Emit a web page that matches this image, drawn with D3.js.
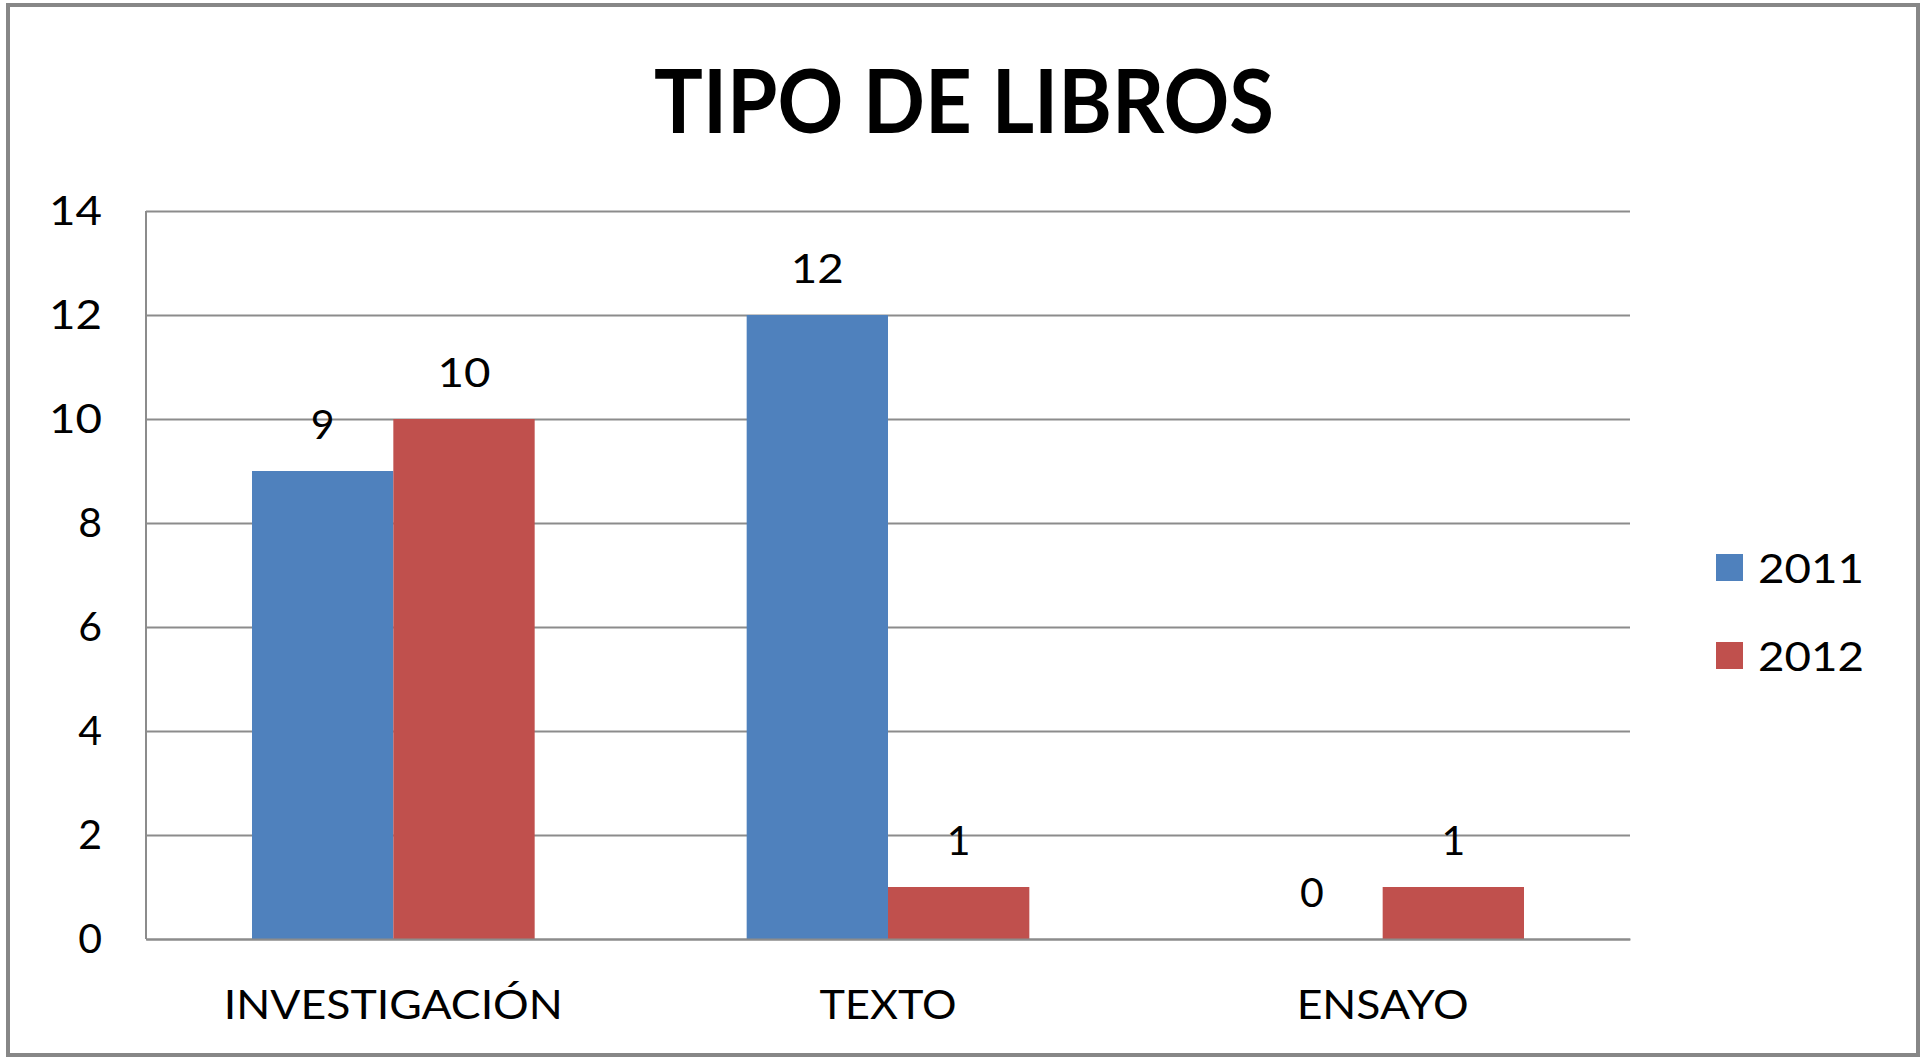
<!DOCTYPE html>
<html>
<head>
<meta charset="utf-8">
<script src="https://cdn.jsdelivr.net/npm/d3@7"></script>
<style>
  body { margin: 0; background: #fff; }
  svg { display: block; }
  .grid line { stroke: #8c8c8c; stroke-width: 2; }
  .grid path { display: none; }
  .axis text { font-family: Lato, 'Open Sans', sans-serif; fill: #000; }
  .label { font-family: Lato, 'Open Sans', sans-serif; font-size: 41px; fill: #000; }
</style>
</head>
<body>
<div id="chart"></div>
<script>
const categories = ['INVESTIGACIÓN', 'TEXTO', 'ENSAYO'];
const years = ['2011', '2012'];
const values2011 = [9, 12, 0];
const values2012 = [10, 1, 1];
const yTicks = [0, 2, 4, 6, 8, 10, 12, 14];
const colors = ['#4f81bd', '#c0504d'];

const W = 1925;
const H = 1059;
const digitW = 26.5; // the source font has wide, equal-width digits

// only stretch multi-digit numbers, a lone digit keeps its own shape
const numLength = s => (String(s).length > 1 ? String(s).length * digitW : null);

// plot area inside the chart box
const margin = { top: 211, right: 295, bottom: 120, left: 146 };
const width = W - margin.left - margin.right;
const height = H - margin.top - margin.bottom;

const svg = d3.select('#chart')
  .append('svg')
  .attr('width', W)
  .attr('height', H);

// outer frame
svg.append('rect')
  .attr('x', 8)
  .attr('y', 5)
  .attr('width', 1910)
  .attr('height', 1050)
  .attr('fill', '#fff')
  .attr('stroke', '#878787')
  .attr('stroke-width', 4);

// title
svg.append('text')
  .attr('x', 964)
  .attr('y', 133)
  .attr('text-anchor', 'middle')
  .attr('font-family', "Lato, 'Open Sans', sans-serif")
  .attr('font-weight', 'bold')
  .attr('font-size', 88)
  .attr('textLength', 620)
  .attr('lengthAdjust', 'spacingAndGlyphs')
  .text('TIPO DE LIBROS');

const g = svg.append('g')
  .attr('transform', `translate(${margin.left}, ${margin.top})`);

const x0 = d3.scaleBand().domain(categories).range([0, width]);
const x1 = d3.scaleBand().domain(years)
  .range([0, x0.bandwidth()])
  .paddingOuter(0.75);
const y = d3.scaleLinear().domain([0, 14]).range([height, 0]);

// gridlines + y labels
const yAxis = g.append('g')
  .attr('class', 'grid axis')
  .call(d3.axisLeft(y).tickValues(yTicks).tickSize(-width).tickPadding(44));
yAxis.selectAll('text')
  .attr('font-size', 41)
  .attr('textLength', d => numLength(d))
  .attr('lengthAdjust', 'spacingAndGlyphs');

// left axis line
g.append('line')
  .attr('x1', 0).attr('x2', 0)
  .attr('y1', 0).attr('y2', height)
  .attr('stroke', '#8c8c8c')
  .attr('stroke-width', 2);

// bars
const rows = categories.map((c, i) => ({ cat: c, vals: [values2011[i], values2012[i]] }));

const groups = g.selectAll('.group')
  .data(rows)
  .enter().append('g')
  .attr('class', 'group')
  .attr('transform', d => `translate(${x0(d.cat)}, 0)`);

groups.selectAll('rect')
  .data(d => d.vals.map((v, k) => ({ year: years[k], v, k })))
  .enter().append('rect')
  .attr('x', d => x1(d.year))
  .attr('y', d => y(d.v))
  .attr('width', x1.bandwidth())
  .attr('height', d => height - y(d.v))
  .attr('fill', d => colors[d.k]);

groups.selectAll('.label')
  .data(d => d.vals.map((v, k) => ({ year: years[k], v, k })))
  .enter().append('text')
  .attr('class', 'label')
  .attr('x', d => x1(d.year) + x1.bandwidth() / 2)
  .attr('y', d => y(d.v) - 32)
  .attr('text-anchor', 'middle')
  .attr('textLength', d => numLength(d.v))
  .attr('lengthAdjust', 'spacingAndGlyphs')
  .text(d => d.v);

// category axis
const xAxis = g.append('g')
  .attr('class', 'axis')
  .attr('transform', `translate(0, ${height})`)
  .call(d3.axisBottom(x0).tickSize(0).tickPadding(0));
xAxis.select('.domain').attr('stroke', '#8c8c8c').attr('stroke-width', 2);
const catWidths = [339, 137, 172];
xAxis.selectAll('text')
  .attr('font-size', 41)
  .attr('y', 80)
  .attr('dy', 0)
  .attr('textLength', (d, i) => catWidths[i])
  .attr('lengthAdjust', 'spacingAndGlyphs');

// legend
const legend = svg.append('g')
  .attr('transform', 'translate(1716, 554)');

const items = legend.selectAll('g')
  .data(years)
  .enter().append('g')
  .attr('transform', (d, i) => `translate(0, ${i * 88})`);

items.append('rect')
  .attr('width', 27)
  .attr('height', 27)
  .attr('fill', (d, i) => colors[i]);

items.append('text')
  .attr('class', 'label')
  .attr('x', 42)
  .attr('y', 29)
  .attr('textLength', d => numLength(d))
  .attr('lengthAdjust', 'spacingAndGlyphs')
  .text(d => d);
</script>
</body>
</html>
